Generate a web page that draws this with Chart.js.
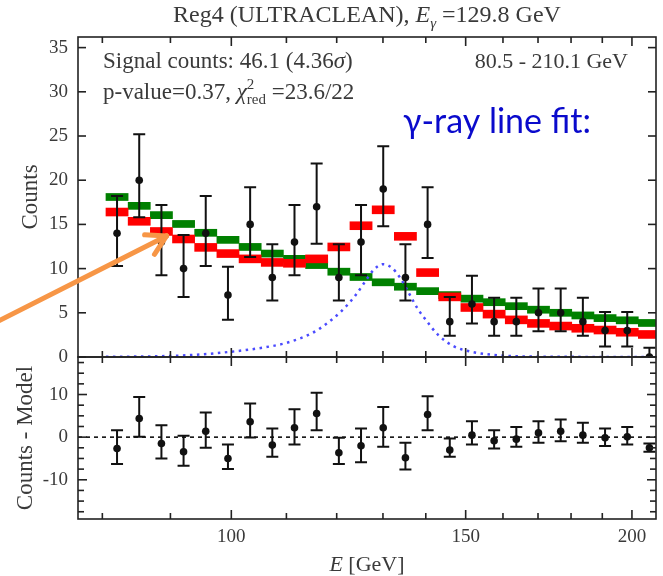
<!DOCTYPE html>
<html>
<head>
<meta charset="utf-8">
<script src="https://cdn.jsdelivr.net/npm/chart.js@4.4.0/dist/chart.umd.min.js"></script>
<style>
  body { margin: 0; background: #fff; }
  #wrap { position: relative; width: 663px; height: 576px; }
</style>
</head>
<body>
<div id="wrap"><canvas id="spectrum" width="663" height="576"></canvas></div>
<script>
// 25 log-spaced energy bins between 80.5 and 210.1 GeV (centres)
var binCenters = [82.06, 85.27, 88.61, 92.07, 95.67, 99.42, 103.31, 107.35, 111.55, 115.91,
                  120.45, 125.16, 130.06, 135.15, 140.44, 145.93, 151.64, 157.57, 163.74, 170.14,
                  176.80, 183.72, 190.91, 198.38, 206.14];

// measured counts with asymmetric errors
var counts     = [14, 20, 13, 10, 14, 7, 15, 9, 13, 17, 9, 13, 19, 9, 15, 4, 6, 4, 4, 5, 5, 4, 3, 3, 0];
var countsLow  = [10.3, 15.8, 9.25, 6.8, 10.3, 4.2, 11.3, 6.4, 9.25, 12.8, 6.4, 9.25, 14.8, 6.4, 11.2,
                  2.4, 3.8, 2.4, 2.4, 2.9, 2.9, 2.4, 1.2, 1.2, 0];
var countsHigh = [18.2, 25.2, 17.2, 13.8, 18.2, 10.2, 19.2, 12.75, 17.2, 21.9, 12.75, 17.2, 23.85, 12.75, 19.2,
                  6.8, 9.2, 6.7, 6.7, 7.75, 7.75, 6.7, 5.1, 5.1, 1.05];

// binned models: background + line (red), background only (green)
var modelTotal = [16.4, 15.35, 14.2, 13.35, 12.4, 11.7, 11.1, 10.7, 10.6, 11.1, 12.45, 14.85, 16.65,
                  13.65, 9.55, 6.8, 5.6, 4.85, 4.2, 3.8, 3.5, 3.25, 3.05, 2.8, 2.55];
var modelBkg   = [18.1, 17.1, 16.05, 15.05, 14.05, 13.25, 12.45, 11.7, 11.1, 10.4, 9.65, 9.05, 8.45,
                  7.95, 7.45, 7.0, 6.6, 6.2, 5.75, 5.35, 5.0, 4.7, 4.4, 4.15, 3.85];

// unbinned line profile (dotted blue)
var lineEnergies = [80.5, 85, 90, 95, 100, 105, 110, 115, 118, 121, 124, 126, 128, 130, 132, 134,
                    136, 138, 140, 143, 147, 152, 160, 168, 180, 195, 210];
var lineCounts   = [0.02, 0.05, 0.12, 0.3, 0.6, 1.0, 1.6, 2.7, 3.8, 5.2, 7.0, 8.5, 9.9, 10.5, 10.1, 8.9,
                    7.2, 5.5, 4.2, 2.5, 1.2, 0.55, 0.15, 0.05, 0.02, 0, 0];

// counts - model
var residuals = [-2.65, 4.37, -1.48, -3.43, 1.4, -5.0, 3.6, -1.87, 2.19, 5.54, -3.67, -2.03, 2.19,
                 -4.84, 5.3, -3.04, 0.47, -0.86, -0.47, 1.0, 1.4, 0.47, -0.15, 0.07, -2.5];
var residLow  = [-6.3, 0.07, -5.0, -6.7, -2.5, -7.5, -0.07, -4.6, -1.7, 1.64, -6.3, -5.9, -2.26,
                 -7.57, 1.64, -4.6, -1.7, -2.65, -2.26, -1.33, -0.94, -1.33, -2.1, -1.7, -3.4];
var residHigh = [1.64, 9.4, 2.8, 0.3, 5.8, -1.7, 7.9, 2.03, 6.56, 10.4, -0.15, 2.03, 7.1,
                 -1.33, 9.6, -0.3, 3.75, 1.64, 2.4, 3.75, 4.14, 3.36, 2.03, 2.4, -1.5];

var xTickValues = [80, 90, 100, 110, 120, 130, 140, 150, 160, 170, 180, 190, 200];
var xTickLabels = [100, 150, 200];
var countTicks  = [0, 5, 10, 15, 20, 25, 30, 35];
var residTicks  = [-10, 0, 10];
var residMinor  = [-17.5, -15, -12.5, -10, -7.5, -5, -2.5, 0, 2.5, 5, 7.5, 10, 12.5, 15, 17.5];

var serif = '"Liberation Serif", "Times New Roman", serif';
var textGrey = '#3a3a3a';

function points(xs, ys) {
    var out = [];
    for (var i = 0; i < xs.length; i++) out.push({x: xs[i], y: ys[i]});
    return out;
}

// thick horizontal step per bin, drawn as a floating bar around the model value
function band(xs, ys, half) {
    var out = [];
    for (var i = 0; i < xs.length; i++) out.push({x: xs[i], y: [ys[i] - half, ys[i] + half]});
    return out;
}

// draws a sequence of text pieces (mixed italic / sub / superscript) on one baseline
function drawRuns(ctx, runs, x, y, align) {
    var total = 0;
    runs.forEach(function (r) {
        ctx.font = r.font;
        if (r.sup !== undefined) {
            var w1 = ctx.measureText(r.sup).width, w2 = ctx.measureText(r.sub).width;
            r.w = Math.max(w1, w2);
        } else {
            r.w = ctx.measureText(r.text).width;
        }
        total += r.w;
    });
    var cx = align === 'center' ? x - total / 2 : (align === 'right' ? x - total : x);
    ctx.textAlign = 'left';
    ctx.textBaseline = 'alphabetic';
    runs.forEach(function (r) {
        ctx.font = r.font;
        if (r.sup !== undefined) {
            ctx.fillText(r.sup, cx, y - 10);
            ctx.fillText(r.sub, cx, y + 5);
        } else {
            ctx.fillText(r.text, cx, y + (r.dy || 0));
        }
        cx += r.w;
    });
}

function tick(ctx, x0, y0, x1, y1) {
    ctx.beginPath();
    ctx.moveTo(x0, y0);
    ctx.lineTo(x1, y1);
    ctx.stroke();
}

var panelDecor = {
    id: 'panelDecor',
    beforeDatasetsDraw: function (chart) {
        // dashed zero line of the residual panel
        var ctx = chart.ctx, yb = chart.scales.y2, area = chart.chartArea;
        var y0 = yb.getPixelForValue(0);
        ctx.save();
        ctx.strokeStyle = '#111';
        ctx.lineWidth = 1.6;
        ctx.setLineDash([4, 4]);
        tick(ctx, area.left, y0, area.right, y0);
        ctx.restore();
    },
    beforeDatasetDraw: function (chart, args) {
        var ds = chart.data.datasets[args.index];
        if (!ds.errLow) return;
        var ctx = chart.ctx, xs = chart.scales.x, ys = chart.scales[ds.yAxisID];
        var area = chart.chartArea;
        ctx.save();
        ctx.beginPath();
        ctx.rect(area.left, ys.top, area.right - area.left, ys.bottom - ys.top);
        ctx.clip();
        ctx.strokeStyle = '#111';
        ctx.lineWidth = 2;
        ds.data.forEach(function (p, i) {
            var x = xs.getPixelForValue(p.x);
            var lo = ys.getPixelForValue(ds.errLow[i]);
            var hi = ys.getPixelForValue(ds.errHigh[i]);
            ctx.beginPath();
            ctx.moveTo(x, lo); ctx.lineTo(x, hi);
            ctx.moveTo(x - 6, lo); ctx.lineTo(x + 6, lo);
            ctx.moveTo(x - 6, hi); ctx.lineTo(x + 6, hi);
            ctx.stroke();
        });
        ctx.restore();
    },
    afterDraw: function (chart) {
        var ctx = chart.ctx, xs = chart.scales.x, yt = chart.scales.y, yb = chart.scales.y2;
        var L = chart.chartArea.left, R = chart.chartArea.right;
        ctx.save();
        ctx.strokeStyle = '#222';
        ctx.lineWidth = 1.6;
        ctx.strokeRect(L, yt.top, R - L, yt.bottom - yt.top);
        ctx.strokeRect(L, yb.top, R - L, yb.bottom - yb.top);

        // inward ticks on every side
        xTickValues.forEach(function (v) {
            var x = xs.getPixelForValue(v);
            var len = xTickLabels.indexOf(v) >= 0 ? 9 : 6;
            tick(ctx, x, yt.top, x, yt.top + len);
            tick(ctx, x, yt.bottom - len, x, yt.bottom + len);
            tick(ctx, x, yb.bottom - len, x, yb.bottom);
        });
        countTicks.forEach(function (v) {
            var y = yt.getPixelForValue(v);
            tick(ctx, L, y, L + 8, y);
            tick(ctx, R - 8, y, R, y);
        });
        residMinor.forEach(function (v) {
            var y = yb.getPixelForValue(v);
            var len = residTicks.indexOf(v) >= 0 ? 9 : 6;
            tick(ctx, L, y, L + len, y);
            tick(ctx, R - len, y, R, y);
        });

        // texts
        var cx = (L + R) / 2;
        ctx.fillStyle = textGrey;
        drawRuns(ctx, [
            {text: 'Reg4 (ULTRACLEAN), ', font: '24px ' + serif},
            {text: 'E', font: 'italic 24px ' + serif},
            {text: 'γ', font: 'italic 15px ' + serif, dy: 6},
            {text: ' =129.8 GeV', font: '24px ' + serif}
        ], cx, 22, 'center');
        drawRuns(ctx, [
            {text: 'Signal counts: 46.1 (4.36', font: '23px ' + serif},
            {text: 'σ', font: 'italic 23px ' + serif},
            {text: ')', font: '23px ' + serif}
        ], L + 25, 68, 'left');
        drawRuns(ctx, [
            {text: 'p-value=0.37, ', font: '23px ' + serif},
            {text: 'χ', font: 'italic 23px ' + serif},
            {sup: '2', sub: 'red', font: '15px ' + serif},
            {text: ' =23.6/22', font: '23px ' + serif}
        ], L + 25, 99, 'left');
        drawRuns(ctx, [{text: '80.5 - 210.1 GeV', font: '22px ' + serif}], R - 28, 68, 'right');
        drawRuns(ctx, [
            {text: 'E', font: 'italic 22px ' + serif},
            {text: ' [GeV]', font: '22px ' + serif}
        ], cx, 571, 'center');

        ctx.fillStyle = '#0a0acc';
        drawRuns(ctx, [{text: 'γ-ray line fit:', font: '34px Lato, "Open Sans", sans-serif'}], 403, 133, 'left');

        // orange arrow, given in data coordinates of the upper panel
        var tailX = xs.getPixelForValue(66.4), tailY = yt.getPixelForValue(3.85);
        var tipX = xs.getPixelForValue(89.4), tipY = yt.getPixelForValue(13.7);
        var ang = Math.atan2(tailY - tipY, tailX - tipX);
        ctx.strokeStyle = '#f79646';
        ctx.lineWidth = 5;
        ctx.lineCap = 'round';
        tick(ctx, tailX, tailY, tipX, tipY);
        tick(ctx, tipX, tipY, tipX + 22 * Math.cos(ang - 0.52), tipY + 22 * Math.sin(ang - 0.52));
        tick(ctx, tipX, tipY, tipX + 22 * Math.cos(ang + 0.52), tipY + 22 * Math.sin(ang + 0.52));
        ctx.restore();
    }
};

var tickFont = {family: serif, size: 19};
var axisTitleFont = {family: serif, size: 23};

var ctx = document.getElementById('spectrum').getContext('2d');
new Chart(ctx, {
    type: 'bar',
    data: {
        datasets: [
            {
                type: 'scatter', label: 'Counts', yAxisID: 'y',
                data: points(binCenters, counts), errLow: countsLow, errHigh: countsHigh,
                pointRadius: 3.8, backgroundColor: '#111', borderWidth: 0, order: 0
            },
            {
                type: 'scatter', label: 'Counts - Model', yAxisID: 'y2',
                data: points(binCenters, residuals), errLow: residLow, errHigh: residHigh,
                pointRadius: 3.8, backgroundColor: '#111', borderWidth: 0, order: 0
            },
            {
                type: 'line', label: 'Line profile', yAxisID: 'y',
                data: points(lineEnergies, lineCounts),
                borderColor: '#4b4bff', borderWidth: 2.5, borderDash: [2.5, 4.5],
                pointRadius: 0, cubicInterpolationMode: 'monotone', fill: false, order: 1
            },
            {
                type: 'bar', label: 'Background + line', yAxisID: 'y',
                data: band(binCenters, modelTotal, 0.45),
                backgroundColor: '#ff0000', borderWidth: 0, grouped: false,
                barPercentage: 1, categoryPercentage: 1, order: 2
            },
            {
                type: 'bar', label: 'Background', yAxisID: 'y',
                data: band(binCenters, modelBkg, 0.4),
                backgroundColor: '#008000', borderWidth: 0, grouped: false,
                barPercentage: 1, categoryPercentage: 1, order: 3
            }
        ]
    },
    options: {
        responsive: false,
        animation: false,
        events: [],
        layout: {padding: {top: 37, right: 7, left: 0, bottom: 0}},
        plugins: {legend: {display: false}, tooltip: {enabled: false}},
        scales: {
            x: {
                type: 'logarithmic', min: 76.7, max: 208.5, offset: false,
                grid: {display: false, drawTicks: false}, border: {display: false},
                afterBuildTicks: function (s) {
                    s.ticks = xTickValues.map(function (v) { return {value: v}; });
                },
                afterFit: function (s) { s.height = 57; },
                ticks: {
                    autoSkip: false, maxRotation: 0, padding: 7, color: textGrey, font: tickFont,
                    callback: function (v) { return xTickLabels.indexOf(v) >= 0 ? String(v) : ''; }
                }
            },
            y: {
                type: 'linear', position: 'left', stack: 'panels', stackWeight: 320, weight: 2,
                min: 0, max: 36.2,
                grid: {display: false, drawTicks: false}, border: {display: false},
                afterBuildTicks: function (s) {
                    s.ticks = countTicks.map(function (v) { return {value: v}; });
                },
                afterFit: function (s) { s.width = 78; },
                ticks: {autoSkip: false, padding: 10, color: textGrey, font: tickFont},
                title: {display: true, text: 'Counts', color: textGrey, font: axisTitleFont, padding: {top: 17}}
            },
            y2: {
                type: 'linear', position: 'left', stack: 'panels', stackWeight: 162, weight: 1,
                min: -19.2, max: 18.8,
                grid: {display: false, drawTicks: false}, border: {display: false},
                afterBuildTicks: function (s) {
                    s.ticks = residTicks.map(function (v) { return {value: v}; });
                },
                afterFit: function (s) { s.width = 78; },
                ticks: {autoSkip: false, padding: 10, color: textGrey, font: tickFont},
                title: {display: true, text: 'Counts - Model', color: textGrey, font: axisTitleFont, padding: {top: 12}}
            }
        }
    },
    plugins: [panelDecor]
});
</script>
</body>
</html>
